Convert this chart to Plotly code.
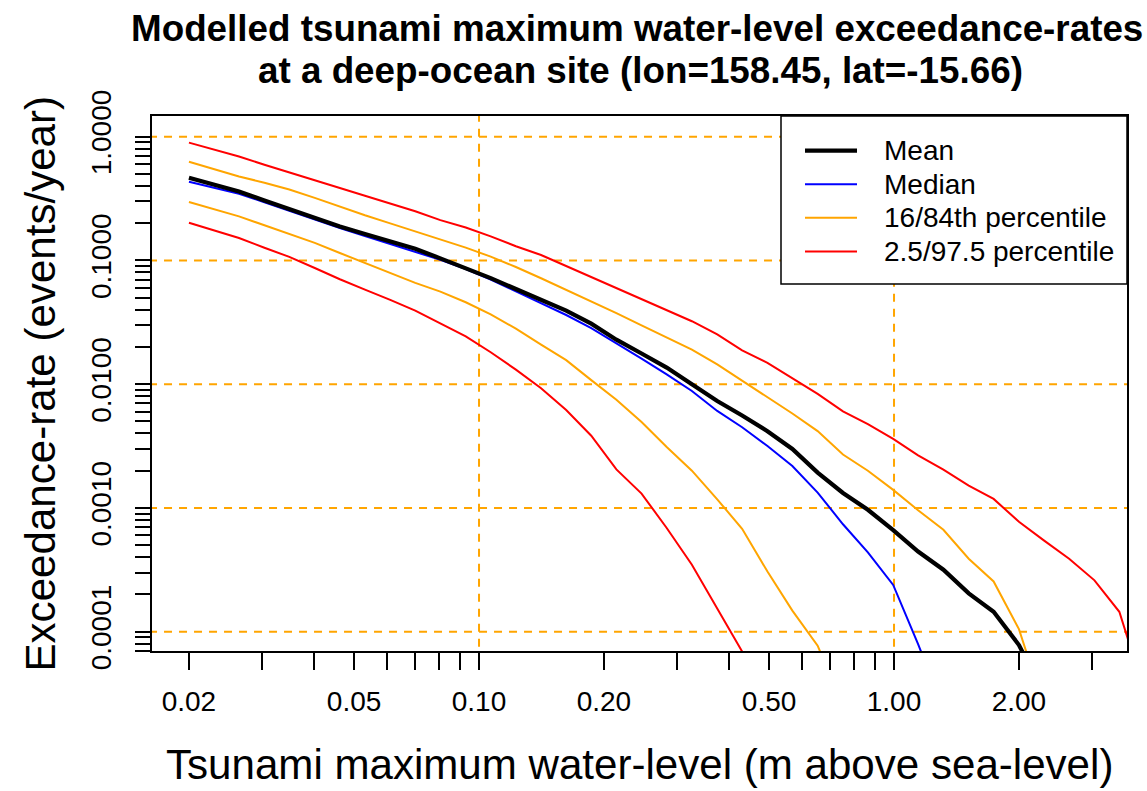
import plotly.graph_objects as go

# ---------------- data ----------------
water_level_m = [0.0200, 0.0230, 0.0264, 0.0304, 0.0349, 0.0402, 0.0462, 0.0531,
                 0.0611, 0.0702, 0.0807, 0.0929, 0.1067, 0.1227, 0.1411, 0.1622,
                 0.1864, 0.2143, 0.2464, 0.2833, 0.3258, 0.3750, 0.4305, 0.4955,
                 0.5689, 0.6546, 0.7534, 0.8650, 0.9954, 1.1429, 1.3152, 1.5136,
                 1.7378, 2.0000, 2.2960, 2.6420, 3.0410, 3.4910, 3.7500]

# log10 of the exceedance-rate (events/year); None = not drawn
p975_log10 = [-0.048, -0.105, -0.160, -0.227, -0.287, -0.353, -0.415, -0.477,
              -0.538, -0.603, -0.674, -0.734, -0.805, -0.885, -0.956, -1.046,
              -1.137, -1.227, -1.316, -1.403, -1.491, -1.598, -1.727, -1.828,
              -1.949, -2.078, -2.219, -2.322, -2.442, -2.575, -2.690, -2.819,
              -2.927, -3.112, -3.262, -3.411, -3.585, -3.839, -4.170]
p84_log10 = [-0.202, -0.263, -0.321, -0.372, -0.427, -0.494, -0.565, -0.635,
             -0.700, -0.763, -0.830, -0.896, -0.969, -1.053, -1.144, -1.236,
             -1.328, -1.426, -1.524, -1.624, -1.720, -1.840, -1.970, -2.103,
             -2.237, -2.379, -2.568, -2.699, -2.854, -3.018, -3.176, -3.410,
             -3.594, -3.979, -4.600, None, None, None, None]
mean_log10 = [-0.331, -0.388, -0.443, -0.515, -0.585, -0.655, -0.726, -0.786,
              -0.846, -0.906, -0.983, -1.060, -1.143, -1.231, -1.322, -1.406,
              -1.511, -1.640, -1.752, -1.866, -2.000, -2.136, -2.253, -2.380,
              -2.523, -2.714, -2.879, -3.015, -3.180, -3.352, -3.499, -3.690,
              -3.839, -4.108, -4.500, None, None, None, None]
median_log10 = [-0.364, -0.414, -0.461, -0.530, -0.600, -0.669, -0.739, -0.803,
                -0.867, -0.931, -0.995, -1.070, -1.154, -1.250, -1.346, -1.441,
                -1.547, -1.667, -1.793, -1.920, -2.055, -2.216, -2.348, -2.499,
                -2.661, -2.876, -3.132, -3.359, -3.622, -4.100, -4.620, None,
                None, None, None, None, None, None, None]
p16_log10 = [-0.528, -0.587, -0.644, -0.716, -0.783, -0.858, -0.940, -1.022,
             -1.103, -1.181, -1.252, -1.338, -1.435, -1.551, -1.680, -1.806,
             -1.967, -2.125, -2.306, -2.508, -2.699, -2.930, -3.169, -3.514,
             -3.830, -4.113, -4.600, None, None, None, None, None,
             None, None, None, None, None, None, None]
p025_log10 = [-0.695, -0.758, -0.819, -0.897, -0.971, -1.061, -1.152, -1.236,
              -1.318, -1.406, -1.507, -1.613, -1.742, -1.882, -2.033, -2.209,
              -2.416, -2.689, -2.884, -3.162, -3.459, -3.811, -4.160, -4.700,
              None, None, None, None, None, None, None, None,
              None, None, None, None, None, None, None]

x_tick_labels = ["0.02", "0.05", "0.10", "0.20", "0.50", "1.00", "2.00"]
x_tick_label_values = [0.02, 0.05, 0.1, 0.2, 0.5, 1.0, 2.0]
y_tick_labels = ["1.0000", "0.1000", "0.0100", "0.0010", "0.0001"]
y_tick_label_values = [1.0, 0.1, 0.01, 0.001, 0.0001]
x_grid_values = [0.1, 1.0]
y_grid_values = [1.0, 0.1, 0.01, 0.001, 0.0001]

legend_labels = ["Mean", "Median", "16/84th percentile", "2.5/97.5 percentile"]


def to_rate(vals):
    return [None if v is None else 10 ** v for v in vals]


# ---------------- geometry ----------------
W, H = 1147, 791
L, R, T, B = 152, 1127, 116, 651
FONT = "Liberation Sans, Arial, Helvetica, sans-serif"
ORANGE = "#FFA500"
TICK_SIZE = 28


def px_x(p):
    return (p - L) / (R - L)


def px_y(p):
    return (B - p) / (B - T)


fig = go.Figure()

# dashed reference grid
for gx in x_grid_values:
    fig.add_trace(go.Scatter(x=[gx, gx], y=[1e-8, 1e3], mode="lines",
                             line=dict(color=ORANGE, width=2, dash="8px,7px"),
                             hoverinfo="skip"))
for gy in y_grid_values:
    fig.add_trace(go.Scatter(x=[1e-4, 1e3], y=[gy, gy], mode="lines",
                             line=dict(color=ORANGE, width=2, dash="8px,7px"),
                             hoverinfo="skip"))

series = [
    (p025_log10, "red", 2),
    (p975_log10, "red", 2),
    (p16_log10, ORANGE, 2),
    (p84_log10, ORANGE, 2),
    (median_log10, "blue", 2),
    (mean_log10, "black", 4.2),
]
for vals, col, w in series:
    fig.add_trace(go.Scatter(x=water_level_m, y=to_rate(vals), mode="lines",
                             line=dict(color=col, width=w), connectgaps=False,
                             hoverinfo="skip"))

# ticks
x_minor = [m * 10 ** e for e in (-2, -1, 0) for m in range(1, 10)]
x_tickvals, x_ticktext = [], []
for v in x_minor:
    x_tickvals.append(v)
    lab = ""
    for lv, lt in zip(x_tick_label_values, x_tick_labels):
        if abs(v - lv) < 1e-9:
            lab = lt
    x_ticktext.append(lab)

y_minor = [m * 10 ** e for e in (-5, -4, -3, -2, -1, 0) for m in range(1, 10)]
y_tickvals, y_ticktext = [], []
for v in y_minor:
    y_tickvals.append(v)
    lab = ""
    for lv, lt in zip(y_tick_label_values, y_tick_labels):
        if abs(v - lv) / lv < 1e-9:
            lab = lt
    y_ticktext.append(lab)

axis_common = dict(type="log", showgrid=False, zeroline=False, showline=True,
                   linecolor="black", linewidth=2, mirror=True, ticks="outside",
                   tickcolor="black", tickwidth=1.8,
                   tickfont=dict(family=FONT, size=TICK_SIZE, color="black"))

fig.update_xaxes(range=[-1.788, 0.5614], tickmode="array", tickvals=x_tickvals,
                 ticktext=x_ticktext, ticklen=17, ticklabelstandoff=7,
                 **axis_common)
fig.update_yaxes(range=[-4.156, 0.1673], tickmode="array", tickvals=y_tickvals,
                 ticktext=y_ticktext, ticklen=15, tickangle=-90,
                 ticklabelstandoff=13, **axis_common)

annotations = [
    dict(text="<b>Modelled tsunami maximum water-level exceedance-rates</b>",
         x=px_x(637), y=px_y(28), font=dict(family=FONT, size=36.8, color="black")),
    dict(text="<b>at a deep-ocean site (lon=158.45, lat=-15.66)</b>",
         x=px_x(640), y=px_y(70), font=dict(family=FONT, size=36.8, color="black")),
    dict(text="Tsunami maximum water-level (m above sea-level)",
         x=px_x(639.5), y=px_y(764), font=dict(family=FONT, size=42.1, color="black")),
    dict(text="Exceedance-rate (events/year)", textangle=-90,
         x=px_x(40), y=px_y(383.5), font=dict(family=FONT, size=42.1, color="black")),
]
for a in annotations:
    a.update(xref="paper", yref="paper", showarrow=False,
             xanchor="center", yanchor="middle")

# legend drawn by hand (R-style box)
shapes = [dict(type="rect", xref="paper", yref="paper",
               x0=px_x(781), x1=px_x(1127), y0=px_y(284), y1=px_y(116),
               line=dict(color="black", width=1.5), fillcolor="white", layer="above")]
legend_styles = [("black", 4.2), ("blue", 2), (ORANGE, 2), ("red", 2)]
row_y = [150.7, 184.2, 217.8, 251.5]
for lab, (col, w), ry in zip(legend_labels, legend_styles, row_y):
    shapes.append(dict(type="line", xref="paper", yref="paper",
                       x0=px_x(805), x1=px_x(857), y0=px_y(ry), y1=px_y(ry),
                       line=dict(color=col, width=w), layer="above"))
    annotations.append(dict(text=lab, xref="paper", yref="paper", showarrow=False,
                            x=px_x(882), y=px_y(ry), xanchor="left", yanchor="middle",
                            font=dict(family=FONT, size=TICK_SIZE, color="black")))

fig.update_layout(width=W, height=H, autosize=False,
                  margin=dict(l=L, r=W - R, t=T, b=H - B, pad=0),
                  paper_bgcolor="white", plot_bgcolor="white",
                  showlegend=False, hovermode=False,
                  annotations=annotations, shapes=shapes)

fig.write_html("out.html")
